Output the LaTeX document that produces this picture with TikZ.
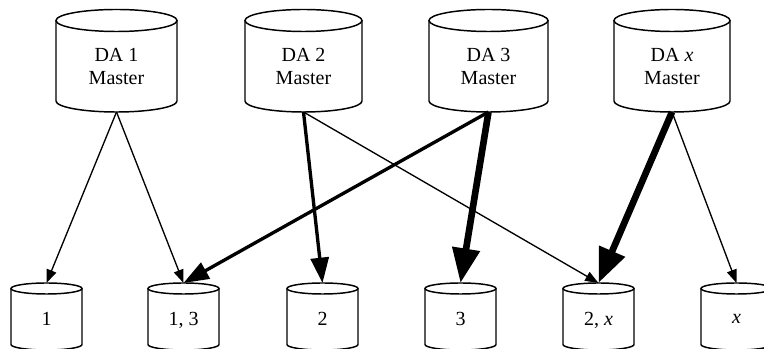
\documentclass[tikz,border=0pt]{standalone}
\usepackage{fontspec}
\setmainfont{Liberation Serif}
\usepackage{tikz}
\usetikzlibrary{arrows.meta,calc}

\tikzset{
  dbbody/.style={draw=none, inner sep=0pt, outer sep=0pt},
  dbline/.style={draw=black, line width=1.1pt},
  dblabel/.style={align=center, inner sep=0pt, text depth=0pt,
    font=\fontsize{15}{17.25}\selectfont},
  thinarrow/.style={-{Triangle[length=10pt,width=7.5pt]}, line width=1pt},
  thickarrow/.style={-{Triangle[length=19pt,width=13.5pt]}, line width=2.5pt},
  heavyarrow/.style={-{Triangle[length=26pt,width=20pt]}, line width=5pt}
}

% cylinder: name, x, y, width, height, end radius, text shift, text
\newcommand{\dbcyl}[8]{%
  \pgfmathsetmacro\dbA{#4/2}
  \pgfmathsetmacro\dbTop{#3+#5/2-#6}
  \pgfmathsetmacro\dbBot{#3-#5/2+#6}
  \node[dbbody, minimum width=#4*0.75pt, minimum height=#5*0.75pt] (#1) at (#2,#3) {};
  \draw[dbline] (#2,\dbTop) ellipse [x radius=\dbA, y radius=#6];
  \draw[dbline] ({#2-\dbA},\dbTop) -- ({#2-\dbA},\dbBot)
    arc [start angle=180, end angle=360, x radius=\dbA, y radius=#6]
    -- ({#2+\dbA},\dbTop);
  \node[dblabel] (#1-text) at ([yshift=#7]#1.center) {#8};
}

\begin{document}
\begin{tikzpicture}[x=0.75pt, y=0.75pt]
    \useasboundingbox (0,0) rectangle (764,349);

    % Masters
    \dbcyl{da1}{116.5}{288.25}{121}{102.5}{11}{-4.5pt}{DA 1\\Master}
    \dbcyl{da2}{303.5}{288.25}{117}{102.5}{11}{-4.5pt}{DA 2\\Master}
    \dbcyl{da3}{488.5}{288.25}{119}{102.5}{11}{-4.5pt}{DA 3\\Master}
    \dbcyl{dax}{672}{288.25}{116}{102.5}{11}{-4.5pt}{DA \textit{x}\\Master}

    % Replicas
    \dbcyl{db1}{46.5}{32.5}{71}{67}{5.5}{-2pt}{1}
    \dbcyl{db13}{183.5}{32.5}{71}{67}{5.5}{-2pt}{1, 3}
    \dbcyl{db2}{322.5}{32.5}{71}{67}{5.5}{-2pt}{2}
    \dbcyl{db3}{460.5}{32.5}{71}{67}{5.5}{-2pt}{3}
    \dbcyl{db2x}{598.5}{32.5}{71}{67}{5.5}{-2pt}{2, \textit{x}}
    \dbcyl{dbx}{736.5}{32.5}{71}{67}{5.5}{-2pt}{\textit{x}}

    % Replication
    \draw[thinarrow] (da1.south) -- (db1.north);
    \draw[thinarrow] (da1.south) -- (db13.north);
    \draw[thickarrow] (da2.south) -- (db2.north);
    \draw[thinarrow] (da2.south) -- (db2x.north);
    \draw[thickarrow] (da3.south) -- (db13.north);
    \draw[heavyarrow] (da3.south) -- (db3.north);
    \draw[heavyarrow] (dax.south) -- (db2x.north);
    \draw[thinarrow] (dax.south) -- (dbx.north);
\end{tikzpicture}
\end{document}
